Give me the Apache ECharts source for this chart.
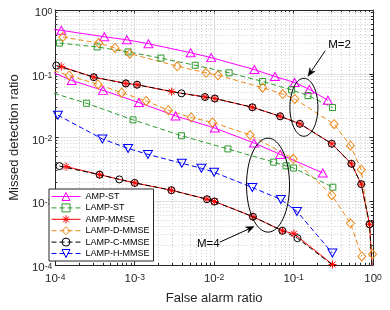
<!DOCTYPE html>
<html><head><meta charset="utf-8">
<script src="https://cdn.jsdelivr.net/npm/echarts@6/dist/echarts.min.js"></script>
<style>html,body{margin:0;padding:0;background:#fff}#c{width:390px;height:310px}</style>
</head><body><div id="c"></div>
<script>
const FONT = '"Liberation Sans", Arial, Helvetica, sans-serif';
const INK = '#262626';
const X_MIN = 1e-4, X_MAX = 1, Y_MIN = 1e-4, Y_MAX = 1;

const seriesNames = ['AMP-ST', 'LAMP-ST', 'AMP-MMSE', 'LAMP-D-MMSE', 'LAMP-C-MMSE', 'LAMP-H-MMSE'];

// [false alarm ratio, missed detection ratio]
const ampSt_M2 = [[7.74e-5,0.506],[1.19e-4,0.48],[4.14e-4,0.380],[7.96e-4,0.341],[1.49e-3,0.296],[5.06e-3,0.214],[9.18e-3,0.179],[0.0321,0.1164],[0.0582,0.0906],[0.103,0.0731],[0.158,0.0569],[0.270,0.0384]];
const ampSt_M4 = [[7.74e-5,0.116],[1.61e-4,0.0785],[3.99e-4,0.0549],[1.13e-3,0.0353],[3.27e-3,0.0218],[0.0102,0.01406],[0.0318,8.21e-3],[0.0678,5.43e-3],[0.233,2.78e-3]];
const lampSt_M2 = [[1.13e-4,0.303],[3.37e-4,0.263],[8.26e-4,0.220],[2.14e-3,0.176],[5.78e-3,0.136],[0.01545,0.1035],[0.0408,0.0757],[0.0944,0.0558],[0.152,0.0455],[0.309,0.0295]];
const lampSt_M4 = [[7.74e-5,0.0537],[2.48e-4,0.0344],[9.53e-4,0.0189],[3.88e-3,0.01067],[0.0149,6.62e-3],[0.0561,4.11e-3],[0.0804,3.60e-3],[0.100,3.32e-3],[0.312,1.66e-3]];
const ampMmse_M2 = [[1.19e-4,0.1297],[3.05e-4,0.0884],[7.74e-4,0.0705],[1.07e-3,0.0673],[2.92e-3,0.0524],[7.67e-3,0.0432],[0.0102,0.0409],[0.0303,0.0298],[0.0678,0.0215],[0.120,0.0164],[0.303,7.98e-3],[0.535,3.87e-3],[0.711,1.855e-3],[0.906,4.35e-4],[0.995,6e-5]];
const ampMmse_M4 = [[1.37e-4,3.50e-3],[3.62e-4,2.61e-3],[1e-3,1.94e-3],[2.90e-3,1.49e-3],[8.13e-3,1.076e-3],[0.0101,9.91e-4],[0.0308,5.73e-4],[0.0724,3.44e-4],[0.1014,3.09e-4],[0.309,1.02e-4]];
const lampDMmse_M2 = [[1.245e-4,0.376],[3.52e-4,0.303],[5.66e-4,0.2535],[8.67e-4,0.2066],[3.43e-3,0.1311],[7.91e-3,0.1035],[0.0112,0.0946],[0.0408,0.0605],[0.0731,0.0481],[0.1037,0.0402],[0.324,0.0162],[0.520,7.45e-3],[0.711,3.12e-3],[0.986,1.48e-4]];
const lampDMmse_M4 = [[7.74e-5,0.121],[1.50e-4,0.0939],[3.46e-4,0.0680],[6.86e-4,0.0505],[1.394e-3,0.0374],[2.65e-3,0.0268],[5.15e-3,0.0206],[9.53e-3,0.01725],[0.0284,0.01094],[0.0991,4.63e-3],[0.303,1.243e-3],[0.520,4.51e-4],[0.724,1.365e-4]];
const lampCMmse_M2 = [[1.03e-4,0.1344],[3.05e-4,0.0884],[7.74e-4,0.0705],[1.07e-3,0.0673],[3.88e-3,0.0493],[7.67e-3,0.0432],[0.0102,0.0409],[0.0303,0.0298],[0.0678,0.0215],[0.120,0.0164],[0.303,7.98e-3],[0.535,3.87e-3],[0.711,1.855e-3],[0.906,4.35e-4],[0.99,6e-5]];
const lampCMmse_M4 = [[1.13e-4,3.56e-3],[3.62e-4,2.61e-3],[6.40e-4,2.20e-3],[1e-3,1.94e-3],[2.90e-3,1.49e-3],[8.13e-3,1.076e-3],[0.0101,9.91e-4],[0.0308,5.73e-4],[0.0724,3.44e-4],[0.112,2.63e-4],[0.321,9.64e-5]];
const lampHMmse_M4 = [[1.08e-4,0.0224],[3.92e-4,9.48e-3],[8.26e-4,6.74e-3],[1.468e-3,5.43e-3],[3.92e-3,3.94e-3],[6.92e-3,3.29e-3],[0.0100,2.85e-3],[0.0303,1.64e-3],[0.0692,1.065e-3],[0.1104,6.92e-4],[0.308,1.54e-4]];

// annotations (data coordinates)
const annEllipses = [[0.135, 0.0298], [0.0477, 1.79e-3]];
const annArrows = [[0.2506, 0.230, 0.152, 0.0916], [0.01175, 2.28e-4, 0.0318, 4.0e-4]];
const annTexts = [[0.380, 0.285], [8.43e-3, 2.16e-4]];
const annTextLabels = ['M=2', 'M=4'];

// minor grid positions (2..9 within each decade)
const minorVals = [];
for (let d = -4; d < 0; d++) for (let k = 2; k <= 9; k++) minorVals.push(+(k * Math.pow(10, d)).toPrecision(3));

const C = { mag:'#ff00ff', grn:'#2f9a2f', red:'#ff0000', org:'#ec8a1a', blk:'#000000', blu:'#0000ff' };
const STAR = 'path://M0,-5L0,5M-5,0L5,0M-3.6,-3.6L3.6,3.6M-3.6,3.6L3.6,-3.6';

function mk(name, data, color, symbol, dashed, size, rotate) {
  return {
    type:'line', name, data, symbol, symbolSize:size, symbolRotate:rotate || 0, symbolKeepAspect:true,
    lineStyle:{color, width:1, type: dashed ? [5,3] : 'solid'},
    itemStyle:{color:'rgba(255,255,255,0)', borderColor:color, borderWidth:1},
    emphasis:{disabled:true}, silent:true, clip:true, z:2
  };
}

const crisp = v => Math.round(v - 0.5) + 0.5;

const gridSeriesX = {
  type:'custom', coordinateSystem:'cartesian2d', silent:true, z:1, clip:false,
  data: minorVals.map(v => [v, 0.01]),
  renderItem: (p, api) => {
    const v = api.value(0);
    const t = api.coord([v, Y_MAX]), b = api.coord([v, Y_MIN]);
    const x = crisp(t[0]);
    return {type:'group', children:[
      {type:'line', shape:{x1:x, y1:t[1], x2:x, y2:b[1]}, style:{stroke:'#cfcfcf', lineWidth:1, lineDash:[1,2]}},
      {type:'line', shape:{x1:x, y1:b[1], x2:x, y2:b[1]-2}, style:{stroke:INK, lineWidth:1}},
      {type:'line', shape:{x1:x, y1:t[1], x2:x, y2:t[1]+2}, style:{stroke:INK, lineWidth:1}}
    ]};
  }
};
const gridSeriesY = {
  type:'custom', coordinateSystem:'cartesian2d', silent:true, z:1, clip:false,
  data: minorVals.map(v => [0.01, v]),
  renderItem: (p, api) => {
    const v = api.value(1);
    const l = api.coord([X_MIN, v]), r = api.coord([X_MAX, v]);
    const y = crisp(l[1]);
    return {type:'group', children:[
      {type:'line', shape:{x1:l[0], y1:y, x2:r[0], y2:y}, style:{stroke:'#cfcfcf', lineWidth:1, lineDash:[1,2]}},
      {type:'line', shape:{x1:l[0], y1:y, x2:l[0]+2, y2:y}, style:{stroke:INK, lineWidth:1}},
      {type:'line', shape:{x1:r[0], y1:y, x2:r[0]-2, y2:y}, style:{stroke:INK, lineWidth:1}}
    ]};
  }
};

const ELL_SIZE = [[14, 29], [21.5, 47]];
const ellipseSeries = {
  type:'custom', coordinateSystem:'cartesian2d', silent:true, z:5, clip:false,
  data: annEllipses,
  renderItem: (p, api) => {
    const c = api.coord([api.value(0), api.value(1)]);
    const s = ELL_SIZE[p.dataIndex];
    return {type:'ellipse', shape:{cx:c[0], cy:c[1], rx:s[0], ry:s[1]}, style:{fill:'none', stroke:'#000', lineWidth:1}};
  }
};
const arrowSeries = {
  type:'custom', coordinateSystem:'cartesian2d', silent:true, z:5, clip:false,
  data: annArrows,
  renderItem: (p, api) => {
    const a = api.coord([api.value(0), api.value(1)]);
    const b = api.coord([api.value(2), api.value(3)]);
    const dx = b[0]-a[0], dy = b[1]-a[1], L = Math.hypot(dx, dy);
    const ux = dx/L, uy = dy/L, nx = -uy, ny = ux;
    const hl = 8, hw = 3.2, notch = 5.5;
    const back = [b[0]-ux*hl, b[1]-uy*hl];
    const mid = [b[0]-ux*notch, b[1]-uy*notch];
    return {type:'group', children:[
      {type:'line', shape:{x1:a[0], y1:a[1], x2:mid[0], y2:mid[1]}, style:{stroke:'#000', lineWidth:1}},
      {type:'polygon', shape:{points:[b, [back[0]+nx*hw, back[1]+ny*hw], mid, [back[0]-nx*hw, back[1]-ny*hw]]}, style:{fill:'#000', stroke:'#000', lineWidth:0.5}}
    ]};
  }
};
const textSeries = {
  type:'custom', coordinateSystem:'cartesian2d', silent:true, z:5, clip:false,
  data: annTexts,
  renderItem: (p, api) => {
    const c = api.coord([api.value(0), api.value(1)]);
    return {type:'text', x:c[0], y:c[1], style:{text:annTextLabels[p.dataIndex], fill:'#000', fontSize:11.5, fontFamily:FONT, align:'center', verticalAlign:'middle'}};
  }
};

const expFmt = v => '{b|10}{s|' + Math.round(Math.log10(v)) + '}';
const rich = {
  b:{fontSize:11.5, fontFamily:FONT, color:INK, lineHeight:12, padding:[3,0,0,0], verticalAlign:'bottom'},
  s:{fontSize:8.5, fontFamily:FONT, color:INK, lineHeight:9, verticalAlign:'top'}
};

const axisCommon = {
  type:'log', logBase:10,
  axisLine:{show:true, onZero:false, lineStyle:{color:INK, width:1}},
  axisTick:{show:true, inside:true, length:3.5, lineStyle:{color:INK, width:1}},
  minorTick:{show:false}, minorSplitLine:{show:false}
};

const option = {
  animation:false,
  backgroundColor:'#fff',
  textStyle:{fontFamily:FONT},
  grid:{left:49, right:17, top:10, bottom:43, containLabel:false},
  xAxis:[
    Object.assign({}, axisCommon, {
      min:X_MIN, max:X_MAX, position:'bottom',
      name:'False alarm ratio', nameLocation:'middle', nameGap:27,
      nameTextStyle:{fontSize:13, color:INK, fontFamily:FONT},
      axisLabel:{show:true, margin:8, formatter:expFmt, rich:rich},
      splitLine:{show:true, lineStyle:{color:'#e2e2e2', width:1}}
    }),
    Object.assign({}, axisCommon, {
      min:X_MIN, max:X_MAX, position:'top', axisLabel:{show:false}, splitLine:{show:false}
    })
  ],
  yAxis:[
    Object.assign({}, axisCommon, {
      min:Y_MIN, max:Y_MAX, position:'left',
      name:'Missed detection ratio', nameLocation:'middle', nameGap:30,
      nameTextStyle:{fontSize:13, color:INK, fontFamily:FONT},
      axisLabel:{show:true, margin:3, formatter:expFmt, rich:rich, padding:[6,0,0,0]},
      splitLine:{show:true, lineStyle:{color:'#e2e2e2', width:1}}
    }),
    Object.assign({}, axisCommon, {
      min:Y_MIN, max:Y_MAX, position:'right', axisLabel:{show:false}, splitLine:{show:false}
    })
  ],
  legend:{
    orient:'vertical', left:49, top:189, itemWidth:29, itemHeight:10, itemGap:2.4,
    padding:[3,4,3,2], backgroundColor:'#fff', borderColor:INK, borderWidth:1, borderRadius:0,
    itemStyle:{borderWidth:1}, lineStyle:{width:1},
    textStyle:{fontSize:9, color:'#000', fontFamily:FONT}, selectedMode:false, data:seriesNames
  },
  series:[
    gridSeriesX, gridSeriesY,
    mk('AMP-ST', ampSt_M2, C.mag, 'triangle', false, [9,8]),
    mk('AMP-ST', ampSt_M4, C.mag, 'triangle', false, [9,8]),
    mk('LAMP-ST', lampSt_M2, C.grn, 'rect', true, 6),
    mk('LAMP-ST', lampSt_M4, C.grn, 'rect', true, 6),
    mk('AMP-MMSE', ampMmse_M2, C.red, STAR, false, 8),
    mk('AMP-MMSE', ampMmse_M4, C.red, STAR, false, 8),
    mk('LAMP-D-MMSE', lampDMmse_M2, C.org, 'diamond', true, [8,9]),
    mk('LAMP-D-MMSE', lampDMmse_M4, C.org, 'diamond', true, [8,9]),
    mk('LAMP-C-MMSE', lampCMmse_M2, C.blk, 'circle', true, 7),
    mk('LAMP-C-MMSE', lampCMmse_M4, C.blk, 'circle', true, 7),
    mk('LAMP-H-MMSE', lampHMmse_M4, C.blu, 'triangle', true, [9,8], 180),
    ellipseSeries, arrowSeries, textSeries
  ]
};

const chart = echarts.init(document.getElementById('c'), null, {renderer:'canvas', width:390, height:310});
chart.setOption(option);
</script>
</body></html>
